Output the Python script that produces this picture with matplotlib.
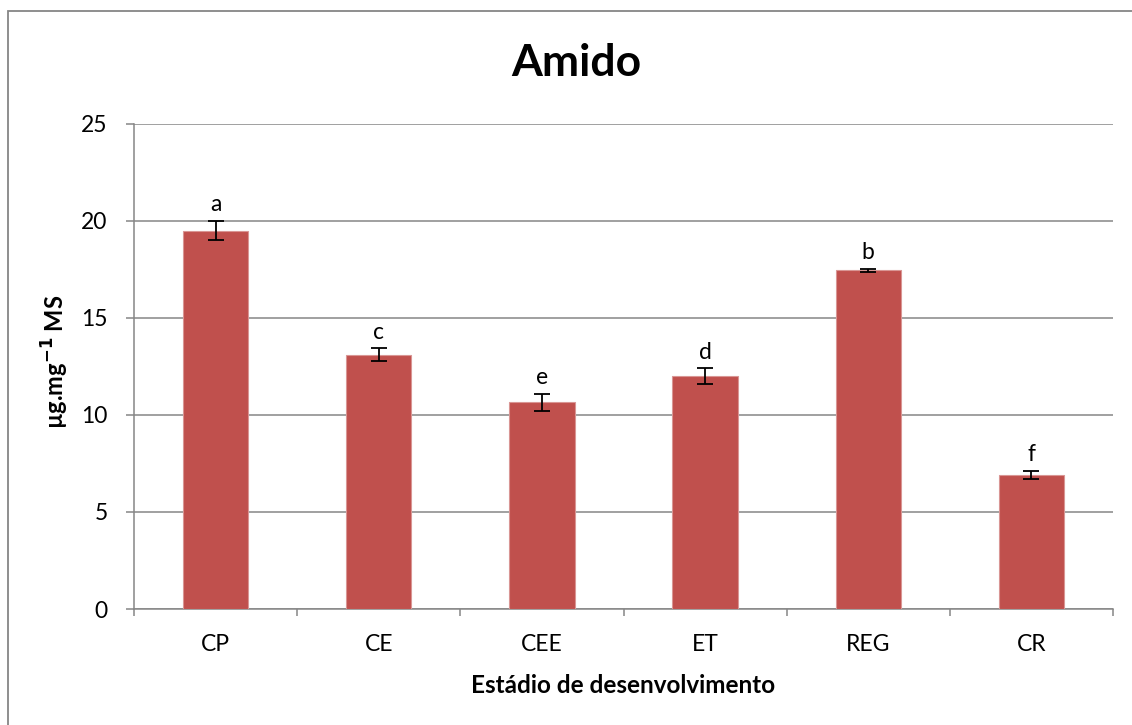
import matplotlib.pyplot as plt
import matplotlib.patches as mpatches
import numpy as np

stages = ["CP", "CE", "CEE", "ET", "REG", "CR"]
amido = [19.5, 13.1, 10.65, 12.0, 17.45, 6.9]
erro = [0.5, 0.33, 0.44, 0.4, 0.1, 0.2]
letras = ["a", "c", "e", "d", "b", "f"]

plt.rcParams['font.family'] = ['Lato', 'DejaVu Sans']
grey = '#868686'

fig = plt.figure(figsize=(11.32, 7.25), dpi=100)
ax = fig.add_axes([134/1132, 1-609/725, (1113-134)/1132, (609-124)/725])

x = np.arange(len(stages))
ax.bar(x, amido, width=0.4, color='#C0504D', edgecolor='#D99694', linewidth=0.8, zorder=3)
ax.errorbar(x, amido, yerr=erro, fmt='none', ecolor='black', elinewidth=1.3,
            capsize=5.5, capthick=1.3, zorder=4)
for xi, v, e, l in zip(x, amido, erro, letras):
    ax.text(xi, v + e + 0.3, l, ha='center', va='bottom', fontsize=16.5)

ax.set_xlim(-0.5, 5.5)
ax.set_ylim(0, 25)
ax.set_yticks([0, 5, 10, 15, 20, 25])
ax.yaxis.grid(True, color=grey, linewidth=1.1, zorder=0)
ax.set_axisbelow(True)
ax.set_xticks(x)
ax.set_xticklabels(stages)
ax.set_xticks(np.arange(-0.5, 6, 1), minor=True)
ax.tick_params(axis='x', which='major', length=0, labelsize=16.5, pad=18)
ax.tick_params(axis='x', which='minor', length=5, color=grey, width=1.1)
ax.tick_params(axis='y', length=6, color=grey, width=1.1, labelsize=16.5, pad=13)
for s in ['top', 'right']:
    ax.spines[s].set_visible(False)
for s in ['left', 'bottom']:
    ax.spines[s].set_color(grey)
    ax.spines[s].set_linewidth(1.1)

ax.set_xlabel('Estádio de desenvolvimento', fontsize=17.5, fontweight='bold', labelpad=14)
ax.set_ylabel('µg.mg$^{\\mathbf{-1}}$ MS', fontsize=17, fontweight='bold')
ax.yaxis.set_label_coords(-0.064, 0.51)
fig.text(576/1132, 1-63/725, 'Amido', ha='center', va='center', fontsize=32, fontweight='bold')

border = mpatches.Rectangle((8/1132, -0.05), 1.1, 1.05 - 11/725, transform=fig.transFigure,
                            fill=False, edgecolor=grey, linewidth=1.3, clip_on=False)
fig.patches.append(border)

fig.savefig('out.png', dpi=100)
